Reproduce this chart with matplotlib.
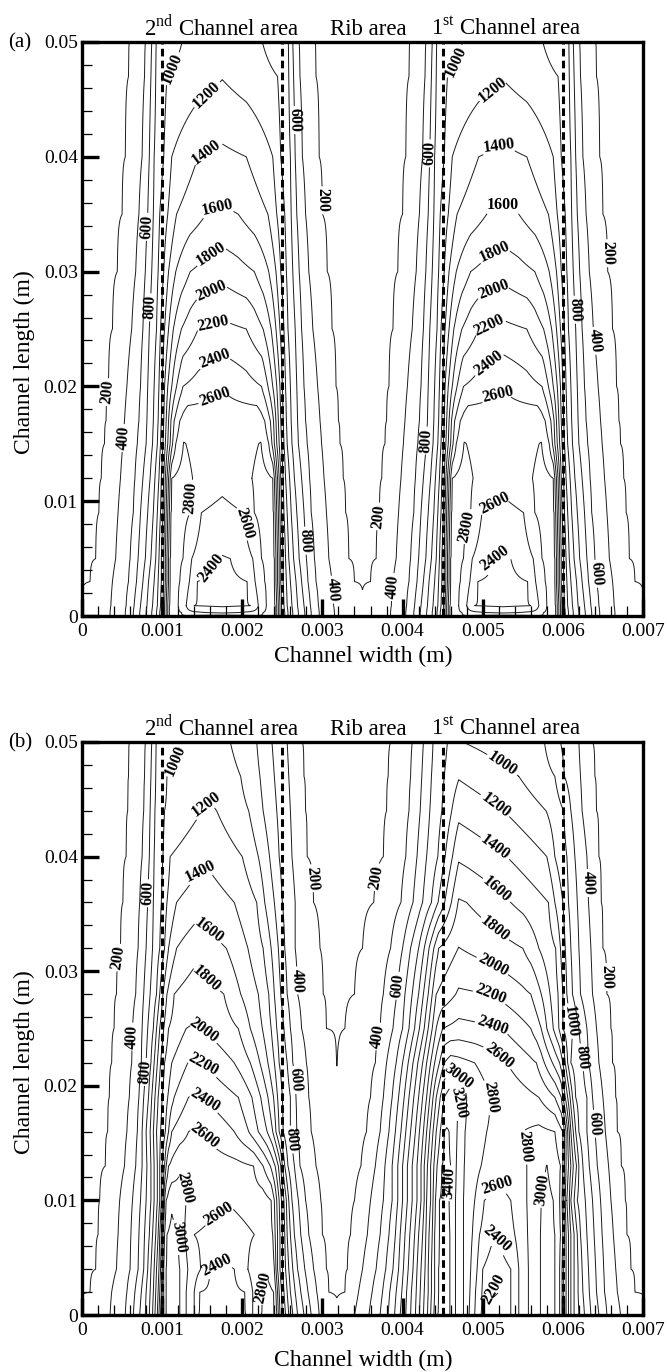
import numpy as np
import matplotlib
matplotlib.use("Agg")
import matplotlib.pyplot as plt
from matplotlib.ticker import MultipleLocator, FuncFormatter

plt.rcParams['font.family'] = ['Liberation Serif', 'DejaVu Serif']
plt.rcParams['mathtext.fontset'] = 'custom'
plt.rcParams['mathtext.rm'] = 'Liberation Serif'

levels = list(range(200, 3600, 200))
channel_edges = [0.001, 0.0025, 0.0045, 0.006]
area_names = ['2$^{\\mathrm{nd}}$ Channel area', 'Rib area', '1$^{\\mathrm{st}}$ Channel area']
area_centres = [0.00175, 0.00357, 0.00529]

# (a) both channels look the same: one profile per row, u = x - left channel edge
a_channel_starts = [0.001, 0.0045]
a_row_y = [0.05, 0.047, 0.04, 0.035, 0.03, 0.025, 0.02, 0.017, 0.015, 0.012,
           0.009, 0.005, 0.003, 0.0009, 0.0003, 0.0]
a_profiles = [
    [(-0.001, 110), (-0.00041, 200), (-0.00021, 400), (-0.00013, 600), (-0.000075, 800), (0.00004, 900),
     (0.00025, 1000), (0.00075, 1110), (0.00125, 1000), (0.00146, 900), (0.001575, 800), (0.00163, 600),
     (0.00171, 400), (0.00191, 200), (0.0025, 110)],
    [(-0.001, 115), (-0.00042, 200), (-0.00022, 400), (-0.00014, 600), (-0.00008, 800), (0.00006, 1000),
     (0.00075, 1190), (0.00144, 1000), (0.00158, 800), (0.00164, 600), (0.00172, 400), (0.00192, 200),
     (0.0025, 115)],
    [(-0.001, 125), (-0.00046, 200), (-0.00025, 400), (-0.00016, 600), (-0.0001, 800), (0.00002, 1000),
     (0.00012, 1200), (0.00045, 1400), (0.00075, 1440), (0.00105, 1400), (0.00138, 1200), (0.00148, 1000),
     (0.0016, 800), (0.00166, 600), (0.00175, 400), (0.00196, 200), (0.0025, 125)],
    [(-0.001, 135), (-0.0005, 200), (-0.00029, 400), (-0.00018, 600), (-0.00011, 800), (-0.00003, 1000),
     (0.00007, 1200), (0.00018, 1400), (0.00055, 1600), (0.00075, 1630), (0.00095, 1600), (0.00132, 1400),
     (0.00143, 1200), (0.00153, 1000), (0.00161, 800), (0.00168, 600), (0.00179, 400), (0.002, 200),
     (0.0025, 135)],
    [(-0.001, 145), (-0.00056, 200), (-0.00033, 400), (-0.00021, 600), (-0.00013, 800), (-0.00005, 1000),
     (0.00002, 1200), (0.00008, 1400), (0.00017, 1600), (0.00035, 1800), (0.00075, 1930), (0.00115, 1800),
     (0.00133, 1600), (0.00142, 1400), (0.00148, 1200), (0.00155, 1000), (0.00163, 800), (0.00171, 600),
     (0.00183, 400), (0.00206, 200), (0.0025, 145)],
    [(-0.001, 150), (-0.00062, 200), (-0.00038, 400), (-0.00024, 600), (-0.00016, 800), (-0.00007, 1000),
     (-0.00002, 1200), (0.00003, 1400), (0.00008, 1600), (0.00014, 1800), (0.00024, 2000), (0.00045, 2200),
     (0.00075, 2250), (0.00105, 2200), (0.00126, 2000), (0.00136, 1800), (0.00142, 1600), (0.00147, 1400),
     (0.00152, 1200), (0.00157, 1000), (0.00166, 800), (0.00174, 600), (0.00188, 400), (0.00212, 200),
     (0.0025, 150)],
    [(-0.001, 155), (-0.00067, 200), (-0.00044, 400), (-0.00027, 600), (-0.00018, 800), (-0.0001, 1000),
     (-0.00004, 1200), (0.0, 1400), (0.00003, 1600), (0.00007, 1800), (0.00012, 2000), (0.00018, 2200),
     (0.00026, 2400), (0.00075, 2590), (0.00124, 2400), (0.00132, 2200), (0.00138, 2000), (0.00143, 1800),
     (0.00147, 1600), (0.0015, 1400), (0.00154, 1200), (0.0016, 1000), (0.00168, 800), (0.00177, 600),
     (0.00194, 400), (0.00217, 200), (0.0025, 155)],
    [(-0.001, 160), (-0.0007, 200), (-0.00047, 400), (-0.00029, 600), (-0.00019, 800), (-0.00011, 1000),
     (-0.00005, 1200), (-0.00001, 1400), (0.00002, 1600), (0.00005, 1800), (0.00008, 2000), (0.00011, 2200),
     (0.00015, 2400), (0.00022, 2600), (0.00032, 2740), (0.00075, 2700), (0.00118, 2740), (0.00128, 2600),
     (0.00135, 2400), (0.00139, 2200), (0.00142, 2000), (0.00145, 1800), (0.00148, 1600), (0.00151, 1400),
     (0.00155, 1200), (0.00161, 1000), (0.00169, 800), (0.00179, 600), (0.00197, 400), (0.0022, 200),
     (0.0025, 160)],
    [(-0.001, 165), (-0.00072, 200), (-0.00049, 400), (-0.00031, 600), (-0.0002, 800), (-0.00012, 1000),
     (-0.00006, 1200), (-0.00002, 1400), (0.00001, 1600), (0.00004, 1800), (0.00007, 2000), (0.0001, 2200),
     (0.00013, 2400), (0.00017, 2600), (0.00027, 2810), (0.00045, 2740), (0.00075, 2720), (0.00105, 2740),
     (0.00123, 2810), (0.00133, 2600), (0.00137, 2400), (0.0014, 2200), (0.00143, 2000), (0.00146, 1800),
     (0.00149, 1600), (0.00152, 1400), (0.00156, 1200), (0.00162, 1000), (0.0017, 800), (0.00181, 600),
     (0.00199, 400), (0.00222, 200), (0.0025, 165)],
    [(-0.001, 168), (-0.00076, 200), (-0.00052, 400), (-0.00034, 600), (-0.00024, 800), (-0.00015, 1000),
     (-0.00009, 1200), (-0.00004, 1400), (-0.00001, 1600), (0.00002, 1800), (0.00004, 2000), (0.00006, 2200),
     (0.00008, 2400), (0.0001, 2600), (0.00012, 2800), (0.00025, 2870), (0.00038, 2800), (0.00075, 2680),
     (0.00112, 2800), (0.00125, 2870), (0.00138, 2800), (0.0014, 2600), (0.00142, 2400), (0.00144, 2200),
     (0.00146, 2000), (0.00148, 1800), (0.00151, 1600), (0.00154, 1400), (0.00159, 1200), (0.00165, 1000),
     (0.00174, 800), (0.00184, 600), (0.00202, 400), (0.00226, 200), (0.0025, 168)],
    [(-0.001, 172), (-0.00079, 200), (-0.00055, 400), (-0.00036, 600), (-0.00027, 800), (-0.00018, 1000),
     (-0.00011, 1200), (-0.00006, 1400), (-0.00002, 1600), (0.00001, 1800), (0.00003, 2000), (0.00005, 2200),
     (0.00007, 2400), (0.00009, 2600), (0.00011, 2800), (0.00023, 2860), (0.00035, 2800), (0.00049, 2600),
     (0.00075, 2530), (0.00101, 2600), (0.00115, 2800), (0.00127, 2860), (0.00139, 2800), (0.00141, 2600),
     (0.00143, 2400), (0.00145, 2200), (0.00147, 2000), (0.00149, 1800), (0.00152, 1600), (0.00156, 1400),
     (0.00161, 1200), (0.00168, 1000), (0.00177, 800), (0.00186, 600), (0.00205, 400), (0.00229, 200),
     (0.0025, 172)],
    [(-0.001, 185), (-0.00083, 200), (-0.00058, 400), (-0.0004, 600), (-0.0003, 800), (-0.00021, 1000),
     (-0.00014, 1200), (-0.00008, 1400), (-0.00004, 1600), (-0.00001, 1800), (0.00002, 2000), (0.00004, 2200),
     (0.00006, 2400), (0.00008, 2600), (0.0001, 2800), (0.00018, 2840), (0.00026, 2800), (0.00037, 2600),
     (0.00065, 2400), (0.00075, 2390), (0.00085, 2400), (0.00113, 2600), (0.00124, 2800), (0.00132, 2840),
     (0.0014, 2800), (0.00142, 2600), (0.00144, 2400), (0.00146, 2200), (0.00148, 2000), (0.00151, 1800),
     (0.00154, 1600), (0.00158, 1400), (0.00164, 1200), (0.00171, 1000), (0.0018, 800), (0.0019, 600),
     (0.00208, 400), (0.00233, 200), (0.0025, 185)],
    [(-0.001, 195), (-0.0009, 200), (-0.00062, 400), (-0.00042, 600), (-0.00032, 800), (-0.00024, 1000),
     (-0.00017, 1200), (-0.0001, 1400), (-0.00005, 1600), (-0.00001, 1800), (0.00002, 2000), (0.00004, 2200),
     (0.00006, 2400), (0.00008, 2600), (0.0001, 2800), (0.00016, 2830), (0.00022, 2800), (0.00034, 2600),
     (0.00044, 2400), (0.00075, 2340), (0.00106, 2400), (0.00116, 2600), (0.00128, 2800), (0.00134, 2830),
     (0.0014, 2800), (0.00142, 2600), (0.00144, 2400), (0.00146, 2200), (0.00148, 2000), (0.00151, 1800),
     (0.00155, 1600), (0.0016, 1400), (0.00167, 1200), (0.00174, 1000), (0.00182, 800), (0.00192, 600),
     (0.00212, 400), (0.0024, 200), (0.0025, 195)],
    [(-0.001, 210), (-0.00064, 400), (-0.00045, 600), (-0.00035, 800), (-0.00027, 1000), (-0.00019, 1200),
     (-0.00012, 1400), (-0.00006, 1600), (-0.00002, 1800), (0.00001, 2000), (0.00003, 2200), (0.00005, 2400),
     (0.00007, 2600), (0.00009, 2800), (0.00015, 2820), (0.0002, 2800), (0.0003, 2600), (0.0004, 2400),
     (0.00075, 2370), (0.0011, 2400), (0.0012, 2600), (0.0013, 2800), (0.00135, 2820), (0.00141, 2800),
     (0.00143, 2600), (0.00145, 2400), (0.00147, 2200), (0.00149, 2000), (0.00152, 1800), (0.00156, 1600),
     (0.00162, 1400), (0.00169, 1200), (0.00177, 1000), (0.00185, 800), (0.00195, 600), (0.00214, 400),
     (0.0025, 210)],
    [(-0.001, 225), (-0.00065, 400), (-0.00046, 600), (-0.00036, 800), (-0.00028, 1000), (-0.0002, 1200),
     (-0.00013, 1400), (-0.00007, 1600), (-0.00003, 1800), (0.00001, 2000), (0.00003, 2200), (0.00005, 2400),
     (0.00007, 2600), (0.00009, 2800), (0.00016, 2830), (0.00024, 2800), (0.0003, 2650), (0.00075, 2560),
     (0.0012, 2650), (0.00126, 2800), (0.00134, 2830), (0.00141, 2800), (0.00143, 2600), (0.00145, 2400),
     (0.00147, 2200), (0.00149, 2000), (0.00153, 1800), (0.00157, 1600), (0.00163, 1400), (0.0017, 1200),
     (0.00178, 1000), (0.00186, 800), (0.00196, 600), (0.00215, 400), (0.0025, 225)],
    [(-0.001, 240), (-0.00065, 400), (-0.00046, 600), (-0.00036, 800), (-0.00028, 1000), (-0.0002, 1200),
     (-0.00013, 1400), (-0.00007, 1600), (-0.00003, 1800), (0.00001, 2000), (0.00003, 2200), (0.00005, 2400),
     (0.00007, 2600), (0.00009, 2800), (0.00075, 2880), (0.00141, 2800), (0.00143, 2600), (0.00145, 2400),
     (0.00147, 2200), (0.00149, 2000), (0.00153, 1800), (0.00157, 1600), (0.00163, 1400), (0.0017, 1200),
     (0.00178, 1000), (0.00186, 800), (0.00196, 600), (0.00215, 400), (0.0025, 240)],
]

# (b) rows across the full width, x in m
b_row_y = [0.05, 0.047, 0.044, 0.04, 0.036, 0.032, 0.028, 0.025, 0.022, 0.019,
           0.016, 0.013, 0.01, 0.007, 0.004, 0.002, 0.0]
b_profiles = [
    [(0, 110), (0.00059, 200), (0.00079, 400), (0.00087, 600), (0.000925, 800), (0.00104, 900), (0.00124, 1000),
     (0.00155, 1090), (0.00185, 1000), (0.00218, 800), (0.00237, 600), (0.00256, 400), (0.00275, 200),
     (0.0033, 120), (0.00385, 200), (0.00412, 400), (0.00426, 600), (0.00438, 800), (0.00456, 1000),
     (0.0046, 1010), (0.00475, 1000), (0.0053, 900), (0.00577, 800), (0.00597, 600), (0.0062, 400),
     (0.00637, 200), (0.007, 110)],
    [(0, 115), (0.00058, 200), (0.00078, 400), (0.00086, 600), (0.00092, 800), (0.00106, 1000), (0.0016, 1170),
     (0.00198, 1000), (0.00222, 800), (0.0024, 600), (0.00258, 400), (0.00277, 200), (0.0033, 125),
     (0.00382, 200), (0.0041, 400), (0.00424, 600), (0.00436, 800), (0.00452, 1000), (0.0047, 1185),
     (0.00545, 1000), (0.0059, 800), (0.00602, 600), (0.00622, 400), (0.0064, 200), (0.007, 115)],
    [(0, 118), (0.00057, 200), (0.00077, 400), (0.00085, 600), (0.00091, 800), (0.00103, 1000), (0.0015, 1200),
     (0.00158, 1220), (0.00168, 1200), (0.00208, 1000), (0.00226, 800), (0.00243, 600), (0.0026, 400),
     (0.00279, 200), (0.0033, 128), (0.0038, 200), (0.00408, 400), (0.00422, 600), (0.00434, 800),
     (0.00449, 1000), (0.0047, 1340), (0.00526, 1200), (0.00579, 1000), (0.00601, 800), (0.0061, 600),
     (0.00624, 400), (0.00642, 200), (0.007, 118)],
    [(0, 125), (0.00055, 200), (0.00075, 400), (0.00084, 600), (0.0009, 800), (0.00101, 1000), (0.0011, 1200),
     (0.00155, 1370), (0.002, 1200), (0.0022, 1000), (0.00234, 800), (0.00246, 600), (0.00262, 400),
     (0.00281, 200), (0.0033, 135), (0.00376, 200), (0.00404, 400), (0.00418, 600), (0.0043, 800),
     (0.00444, 1000), (0.0047, 1570), (0.0053, 1400), (0.0058, 1200), (0.0059, 1000), (0.00605, 800),
     (0.00615, 600), (0.0063, 400), (0.00645, 200), (0.007, 125)],
    [(0, 133), (0.00051, 200), (0.00072, 400), (0.00082, 600), (0.00089, 800), (0.00099, 1000), (0.00106, 1200),
     (0.00118, 1400), (0.0015, 1530), (0.0019, 1400), (0.00218, 1200), (0.00228, 1000), (0.0024, 800),
     (0.0025, 600), (0.00266, 400), (0.00289, 200), (0.0032, 150), (0.00364, 200), (0.00398, 400),
     (0.00413, 600), (0.00425, 800), (0.00436, 1000), (0.0047, 1820), (0.0048, 1800), (0.00535, 1600),
     (0.00582, 1400), (0.0059, 1200), (0.006, 1000), (0.00607, 800), (0.00618, 600), (0.00632, 400),
     (0.00648, 200), (0.007, 133)],
    [(0, 140), (0.00048, 200), (0.0007, 400), (0.0008, 600), (0.00088, 800), (0.00097, 1000), (0.00103, 1200),
     (0.00108, 1400), (0.00118, 1600), (0.0014, 1720), (0.0018, 1600), (0.00207, 1400), (0.00226, 1200),
     (0.00236, 1000), (0.00245, 800), (0.00253, 600), (0.00266, 400), (0.00297, 200), (0.0032, 170),
     (0.0035, 200), (0.00385, 400), (0.004, 600), (0.0041, 800), (0.0042, 1000), (0.00427, 1200),
     (0.00433, 1400), (0.00439, 1600), (0.00445, 1800), (0.0047, 2005), (0.0055, 1800), (0.0057, 1600),
     (0.00591, 1400), (0.00597, 1200), (0.00603, 1000), (0.0061, 800), (0.0062, 600), (0.00635, 400),
     (0.0065, 200), (0.007, 140)],
    [(0, 147), (0.00043, 200), (0.00067, 400), (0.00077, 600), (0.00085, 800), (0.00093, 1000), (0.00097, 1200),
     (0.00101, 1400), (0.00106, 1600), (0.00115, 1800), (0.0014, 1910), (0.00177, 1800), (0.00198, 1600),
     (0.0022, 1400), (0.00233, 1200), (0.0024, 1000), (0.00248, 800), (0.00256, 600), (0.00269, 400),
     (0.00301, 200), (0.0032, 185), (0.0034, 200), (0.00376, 400), (0.00393, 600), (0.00403, 800),
     (0.00412, 1000), (0.0042, 1200), (0.00426, 1400), (0.00432, 1600), (0.00437, 1800), (0.00442, 2000),
     (0.0047, 2230), (0.0051, 2200), (0.0056, 2000), (0.00573, 1800), (0.00584, 1600), (0.00594, 1400),
     (0.006, 1200), (0.00605, 1000), (0.00612, 800), (0.00622, 600), (0.00637, 400), (0.00655, 200),
     (0.007, 147)],
    [(0, 150), (0.0004, 200), (0.00063, 400), (0.00075, 600), (0.00082, 800), (0.00089, 1000), (0.00093, 1200),
     (0.00097, 1400), (0.00102, 1600), (0.00108, 1800), (0.0013, 2000), (0.0014, 2020), (0.0015, 2000),
     (0.00195, 1800), (0.0021, 1600), (0.00225, 1400), (0.00236, 1200), (0.00243, 1000), (0.00252, 800),
     (0.0026, 600), (0.00274, 400), (0.00305, 200), (0.0032, 195), (0.00328, 200), (0.00372, 400),
     (0.00388, 600), (0.004, 800), (0.00408, 1000), (0.00415, 1200), (0.00421, 1400), (0.00427, 1600),
     (0.00432, 1800), (0.00437, 2000), (0.00442, 2200), (0.0045, 2400), (0.0047, 2470), (0.00524, 2400),
     (0.0056, 2200), (0.00573, 2000), (0.0058, 1800), (0.00588, 1600), (0.00595, 1400), (0.006, 1200),
     (0.00612, 1000), (0.0062, 800), (0.0063, 600), (0.00642, 400), (0.0066, 200), (0.007, 150)],
    [(0, 152), (0.00037, 200), (0.00062, 400), (0.00074, 600), (0.0008, 800), (0.00086, 1000), (0.0009, 1200),
     (0.00094, 1400), (0.00098, 1600), (0.00103, 1800), (0.00112, 2000), (0.00132, 2200), (0.0014, 2220),
     (0.0015, 2200), (0.0019, 2000), (0.0021, 1800), (0.00222, 1600), (0.00232, 1400), (0.0024, 1200),
     (0.00246, 1000), (0.00256, 800), (0.00263, 600), (0.0028, 400), (0.00318, 198), (0.00366, 400),
     (0.0038, 600), (0.00392, 800), (0.004, 1000), (0.00407, 1200), (0.00413, 1400), (0.00419, 1600),
     (0.00425, 1800), (0.0043, 2000), (0.00435, 2200), (0.0044, 2400), (0.00446, 2600), (0.00452, 2800),
     (0.0046, 2900), (0.0049, 2800), (0.0053, 2600), (0.00567, 2400), (0.00577, 2200), (0.00587, 2000),
     (0.00596, 1800), (0.006, 1600), (0.00603, 1400), (0.00606, 1200), (0.0061, 1000), (0.00625, 800),
     (0.00632, 600), (0.00645, 400), (0.00662, 200), (0.007, 152)],
    [(0, 160), (0.00034, 200), (0.00059, 400), (0.00071, 600), (0.00077, 800), (0.00083, 1000), (0.00087, 1200),
     (0.00091, 1400), (0.00095, 1600), (0.001, 1800), (0.00107, 2000), (0.00115, 2200), (0.00133, 2400),
     (0.0014, 2420), (0.0015, 2400), (0.00195, 2200), (0.00212, 2000), (0.00223, 1800), (0.00232, 1600),
     (0.00239, 1400), (0.00244, 1200), (0.0025, 1000), (0.0026, 800), (0.00267, 600), (0.00283, 400),
     (0.00318, 220), (0.0036, 400), (0.00376, 600), (0.00387, 800), (0.00395, 1000), (0.00402, 1200),
     (0.00408, 1400), (0.00414, 1600), (0.0042, 1800), (0.00425, 2000), (0.0043, 2200), (0.00434, 2400),
     (0.00438, 2600), (0.00442, 2800), (0.00447, 3000), (0.00452, 3200), (0.00458, 3300), (0.0047, 3200),
     (0.0048, 3000), (0.0051, 2800), (0.0054, 2700), (0.0057, 2600), (0.0059, 2400), (0.00598, 2200),
     (0.006, 2000), (0.00603, 1800), (0.00606, 1600), (0.00609, 1400), (0.00612, 1200), (0.00616, 1000),
     (0.0063, 800), (0.00637, 600), (0.0065, 400), (0.00666, 200), (0.007, 160)],
    [(0, 165), (0.00032, 200), (0.00056, 400), (0.00069, 600), (0.00075, 800), (0.0008, 1000), (0.00085, 1200),
     (0.00089, 1400), (0.00093, 1600), (0.00098, 1800), (0.00104, 2000), (0.00108, 2200), (0.00112, 2400),
     (0.00133, 2600), (0.0014, 2620), (0.0015, 2600), (0.0019, 2400), (0.00208, 2200), (0.0022, 2000),
     (0.00231, 1800), (0.00238, 1600), (0.00242, 1400), (0.00246, 1200), (0.00251, 1000), (0.0026, 800),
     (0.00268, 600), (0.00286, 400), (0.00318, 235), (0.00355, 400), (0.00372, 600), (0.00383, 800),
     (0.00391, 1000), (0.00398, 1200), (0.00404, 1400), (0.0041, 1600), (0.00416, 1800), (0.00421, 2000),
     (0.00426, 2200), (0.0043, 2400), (0.00434, 2600), (0.00438, 2800), (0.00442, 3000), (0.00447, 3200),
     (0.00452, 3400), (0.00455, 3420), (0.00458, 3400), (0.00468, 3200), (0.00478, 3000), (0.00505, 2800),
     (0.0053, 2720), (0.0055, 2800), (0.0057, 2850), (0.0059, 2800), (0.006, 2600), (0.00602, 2400),
     (0.00604, 2200), (0.00606, 2000), (0.00608, 1800), (0.0061, 1600), (0.00613, 1400), (0.00616, 1200),
     (0.0062, 1000), (0.0063, 800), (0.0064, 600), (0.00653, 400), (0.00668, 200), (0.007, 165)],
    [(0, 167), (0.00029, 200), (0.00053, 400), (0.00067, 600), (0.00075, 800), (0.00081, 1000), (0.00086, 1200),
     (0.0009, 1400), (0.00094, 1600), (0.00097, 1800), (0.001, 2000), (0.00103, 2200), (0.00105, 2400),
     (0.00108, 2600), (0.00122, 2780), (0.0016, 2700), (0.00195, 2650), (0.00214, 2600), (0.00226, 2400),
     (0.00235, 2200), (0.00241, 2000), (0.00245, 1800), (0.00248, 1600), (0.0025, 1400), (0.00253, 1200),
     (0.00257, 1000), (0.00265, 800), (0.00272, 600), (0.00292, 400), (0.00318, 260), (0.00348, 400),
     (0.00366, 600), (0.00378, 800), (0.00387, 1000), (0.00394, 1200), (0.004, 1400), (0.00406, 1600),
     (0.00412, 1800), (0.00418, 2000), (0.00423, 2200), (0.00427, 2400), (0.00431, 2600), (0.00435, 2800),
     (0.00439, 3000), (0.00443, 3200), (0.00449, 3400), (0.00455, 3440), (0.0046, 3400), (0.00467, 3200),
     (0.00477, 3000), (0.00498, 2800), (0.0052, 2650), (0.00555, 2800), (0.0058, 3005), (0.00597, 2800),
     (0.006, 2600), (0.00602, 2400), (0.00604, 2200), (0.00607, 2000), (0.0061, 1800), (0.00613, 1600),
     (0.00617, 1400), (0.0062, 1200), (0.00625, 1000), (0.00633, 800), (0.00643, 600), (0.00657, 400),
     (0.00673, 200), (0.007, 167)],
    [(0, 172), (0.00022, 200), (0.00047, 400), (0.00063, 600), (0.00073, 800), (0.0008, 1000), (0.00086, 1200),
     (0.0009, 1400), (0.00094, 1600), (0.00097, 1800), (0.00099, 2000), (0.00101, 2200), (0.00102, 2400),
     (0.00103, 2600), (0.00105, 2800), (0.00112, 2960), (0.0013, 2800), (0.0016, 2680), (0.00185, 2620),
     (0.0021, 2680), (0.00225, 2700), (0.00236, 2600), (0.0024, 2400), (0.00243, 2200), (0.00246, 2000),
     (0.00249, 1800), (0.00252, 1600), (0.00255, 1400), (0.00258, 1200), (0.00262, 1000), (0.0027, 800),
     (0.00279, 600), (0.00298, 400), (0.00318, 330), (0.0034, 400), (0.0036, 600), (0.00376, 800),
     (0.00387, 1000), (0.00394, 1200), (0.004, 1400), (0.00406, 1600), (0.00412, 1800), (0.00418, 2000),
     (0.00423, 2200), (0.00427, 2400), (0.0043, 2600), (0.00435, 2800), (0.00438, 3000), (0.00441, 3200),
     (0.00446, 3400), (0.00455, 3450), (0.00458, 3400), (0.00466, 3200), (0.00476, 3000), (0.0049, 2800),
     (0.00502, 2600), (0.0052, 2540), (0.00535, 2600), (0.00555, 2800), (0.00573, 3000), (0.0058, 3060),
     (0.00588, 3000), (0.00596, 2800), (0.00599, 2600), (0.00601, 2400), (0.00603, 2200), (0.00605, 2000),
     (0.00608, 1800), (0.0061, 1600), (0.00614, 1400), (0.00618, 1200), (0.00628, 1000), (0.00637, 800),
     (0.00647, 600), (0.0066, 400), (0.00678, 200), (0.007, 172)],
    [(0, 178), (0.0002, 200), (0.00045, 400), (0.00061, 600), (0.00071, 800), (0.00078, 1000), (0.00084, 1200),
     (0.00088, 1400), (0.00092, 1600), (0.00095, 1800), (0.00097, 2000), (0.00099, 2200), (0.001, 2400),
     (0.00101, 2600), (0.00103, 2800), (0.00106, 3000), (0.00112, 3060), (0.0012, 3000), (0.00128, 2800),
     (0.0014, 2600), (0.0018, 2490), (0.00215, 2600), (0.0023, 2720), (0.00238, 2600), (0.00241, 2400),
     (0.00244, 2200), (0.00247, 2000), (0.0025, 1800), (0.00253, 1600), (0.00256, 1400), (0.0026, 1200),
     (0.00265, 1000), (0.00273, 800), (0.00283, 600), (0.003, 400), (0.00318, 360), (0.00335, 400),
     (0.00356, 600), (0.00372, 800), (0.00383, 1000), (0.00391, 1200), (0.00397, 1400), (0.00403, 1600),
     (0.00409, 1800), (0.00415, 2000), (0.0042, 2200), (0.00425, 2400), (0.00429, 2600), (0.00433, 2800),
     (0.00437, 3000), (0.0044, 3200), (0.00446, 3400), (0.00455, 3460), (0.00459, 3400), (0.00466, 3200),
     (0.00476, 3000), (0.00487, 2800), (0.00496, 2600), (0.00515, 2395), (0.0054, 2600), (0.00556, 2800),
     (0.00572, 3000), (0.0058, 3080), (0.0059, 3000), (0.00597, 2800), (0.006, 2600), (0.00602, 2400),
     (0.00604, 2200), (0.00607, 2000), (0.0061, 1800), (0.00614, 1600), (0.00618, 1400), (0.00622, 1200),
     (0.0063, 1000), (0.00639, 800), (0.00649, 600), (0.00663, 400), (0.0068, 200), (0.007, 178)],
    [(0, 185), (0.00017, 200), (0.00043, 400), (0.0006, 600), (0.0007, 800), (0.00077, 1000), (0.00082, 1200),
     (0.00086, 1400), (0.0009, 1600), (0.00093, 1800), (0.00096, 2000), (0.00098, 2200), (0.001, 2400),
     (0.00101, 2600), (0.00102, 2800), (0.00105, 3000), (0.00112, 3080), (0.00122, 3000), (0.00132, 2800),
     (0.00148, 2600), (0.0016, 2400), (0.00175, 2370), (0.0019, 2400), (0.00207, 2600), (0.0022, 2760),
     (0.0023, 2790), (0.00238, 2700), (0.0024, 2600), (0.00242, 2400), (0.00244, 2200), (0.00247, 2000),
     (0.0025, 1800), (0.00254, 1600), (0.00258, 1400), (0.00263, 1200), (0.00269, 1000), (0.00278, 800),
     (0.00289, 600), (0.00305, 400), (0.00318, 375), (0.00331, 400), (0.0035, 600), (0.00367, 800),
     (0.00379, 1000), (0.00388, 1200), (0.00395, 1400), (0.00401, 1600), (0.00407, 1800), (0.00413, 2000),
     (0.00418, 2200), (0.00423, 2400), (0.00428, 2600), (0.00432, 2800), (0.00436, 3000), (0.0044, 3200),
     (0.00445, 3400), (0.00455, 3470), (0.00459, 3400), (0.00466, 3200), (0.00476, 3000), (0.00485, 2800),
     (0.00493, 2600), (0.005, 2400), (0.00515, 2280), (0.00535, 2400), (0.00545, 2600), (0.00557, 2800),
     (0.00572, 3000), (0.0058, 3080), (0.0059, 3000), (0.00596, 2800), (0.00599, 2600), (0.00601, 2400),
     (0.00604, 2200), (0.00607, 2000), (0.0061, 1800), (0.00614, 1600), (0.00619, 1400), (0.00624, 1200),
     (0.00632, 1000), (0.00641, 800), (0.00651, 600), (0.00666, 400), (0.00685, 200), (0.007, 185)],
    [(0, 195), (0.0001, 200), (0.00037, 400), (0.00056, 600), (0.00066, 800), (0.00074, 1000), (0.0008, 1200),
     (0.00085, 1400), (0.00089, 1600), (0.00092, 1800), (0.00095, 2000), (0.00097, 2200), (0.00099, 2400),
     (0.001, 2600), (0.00102, 2800), (0.00105, 3000), (0.00112, 3090), (0.00122, 3000), (0.0013, 2800),
     (0.0014, 2600), (0.00147, 2400), (0.00175, 2340), (0.00203, 2400), (0.00213, 2600), (0.00225, 2800),
     (0.00232, 2840), (0.00239, 2800), (0.00242, 2600), (0.00244, 2400), (0.00246, 2200), (0.00249, 2000),
     (0.00252, 1800), (0.00256, 1600), (0.0026, 1400), (0.00266, 1200), (0.00273, 1000), (0.00282, 800),
     (0.00293, 600), (0.00308, 400), (0.00318, 390), (0.00328, 400), (0.00345, 600), (0.00362, 800),
     (0.00375, 1000), (0.00384, 1200), (0.00392, 1400), (0.00399, 1600), (0.00405, 1800), (0.00411, 2000),
     (0.00417, 2200), (0.00422, 2400), (0.00427, 2600), (0.00432, 2800), (0.00436, 3000), (0.0044, 3200),
     (0.00445, 3400), (0.00455, 3480), (0.00459, 3400), (0.00466, 3200), (0.00476, 3000), (0.00484, 2800),
     (0.00491, 2600), (0.00499, 2400), (0.0051, 2200), (0.00515, 2180), (0.0052, 2200), (0.00535, 2400),
     (0.00545, 2600), (0.00557, 2800), (0.00572, 3000), (0.0058, 3080), (0.0059, 3000), (0.00596, 2800),
     (0.00599, 2600), (0.00601, 2400), (0.00604, 2200), (0.00607, 2000), (0.0061, 1800), (0.00614, 1600),
     (0.00619, 1400), (0.00625, 1200), (0.00633, 1000), (0.00642, 800), (0.00652, 600), (0.00668, 400),
     (0.0069, 200), (0.007, 195)],
    [(0, 240), (0.00035, 400), (0.00054, 600), (0.00064, 800), (0.00072, 1000), (0.00079, 1200), (0.00084, 1400),
     (0.00088, 1600), (0.00091, 1800), (0.00094, 2000), (0.00096, 2200), (0.00098, 2400), (0.001, 2600),
     (0.00102, 2800), (0.00105, 3000), (0.00112, 3090), (0.00122, 3000), (0.0013, 2800), (0.0014, 2600),
     (0.00145, 2400), (0.00175, 2350), (0.00205, 2400), (0.00213, 2600), (0.00224, 2800), (0.00232, 2830),
     (0.0024, 2800), (0.00243, 2600), (0.00245, 2400), (0.00247, 2200), (0.0025, 2000), (0.00254, 1800),
     (0.00258, 1600), (0.00263, 1400), (0.00269, 1200), (0.00277, 1000), (0.00286, 800), (0.00296, 600),
     (0.00318, 430), (0.0034, 600), (0.00358, 800), (0.00372, 1000), (0.00382, 1200), (0.0039, 1400),
     (0.00397, 1600), (0.00404, 1800), (0.0041, 2000), (0.00416, 2200), (0.00421, 2400), (0.00426, 2600),
     (0.00431, 2800), (0.00435, 3000), (0.00439, 3200), (0.00444, 3400), (0.00455, 3490), (0.00459, 3400),
     (0.00466, 3200), (0.00476, 3000), (0.00483, 2800), (0.0049, 2600), (0.00498, 2400), (0.00515, 2250),
     (0.00535, 2400), (0.00545, 2600), (0.00557, 2800), (0.00572, 3000), (0.0058, 3080), (0.0059, 3000),
     (0.00596, 2800), (0.00599, 2600), (0.00601, 2400), (0.00604, 2200), (0.00607, 2000), (0.0061, 1800),
     (0.00614, 1600), (0.0062, 1400), (0.00627, 1200), (0.00635, 1000), (0.00645, 800), (0.00655, 600),
     (0.00672, 400), (0.007, 240)],
]

# contour label spots, by level
a_labels = {
    200: [(0.000325, 0.0195), (0.003, 0.0362), (0.00375, 0.0086), (0.00656, 0.0316)],
    400: [(0.00052, 0.0155), (0.00314, 0.0023), (0.00391, 0.0025), (0.00644, 0.024)],
    600: [(0.00081, 0.0339), (0.00264, 0.0432), (0.00435, 0.0403), (0.00648, 0.0037)],
    800: [(0.00081, 0.0269), (0.00289, 0.0066), (0.00423, 0.0153), (0.00623, 0.0267)],
    1000: [(0.00114, 0.0476), (0.00469, 0.0482)],
    1200: [(0.00151, 0.0458), (0.00514, 0.0458)],
    1400: [(0.00156, 0.0403), (0.0052, 0.041)],
    1600: [(0.00169, 0.0356), (0.00525, 0.0362)],
    1800: [(0.0016, 0.0316), (0.00516, 0.0316)],
    2000: [(0.00164, 0.0281), (0.00516, 0.0281)],
    2200: [(0.00164, 0.0255), (0.00508, 0.0253)],
    2400: [(0.00164, 0.0226), (0.00158, 0.0043), (0.00504, 0.0223), (0.00514, 0.0052)],
    2600: [(0.00164, 0.0193), (0.00201, 0.0081), (0.00522, 0.0191), (0.00514, 0.0099)],
    2800: [(0.00137, 0.0103), (0.00481, 0.0078)],
}
b_labels = {
    200: [(0.00045, 0.0312), (0.00285, 0.0381), (0.00368, 0.0382), (0.0066, 0.0295)],
    400: [(0.00062, 0.0243), (0.00273, 0.0292), (0.0037, 0.0243), (0.00631, 0.0377)],
    600: [(0.00081, 0.0368), (0.00264, 0.0205), (0.00398, 0.0287), (0.00641, 0.0167)],
    800: [(0.00079, 0.0212), (0.0026, 0.0153), (0.00625, 0.0225)],
    1000: [(0.00116, 0.0484), (0.00526, 0.0482), (0.00613, 0.0257)],
    1200: [(0.00151, 0.0447), (0.00514, 0.0443)],
    1400: [(0.00151, 0.0386), (0.00514, 0.0406)],
    1600: [(0.00154, 0.0333), (0.00514, 0.0368)],
    1800: [(0.00154, 0.0292), (0.00514, 0.0336)],
    2000: [(0.00156, 0.0251), (0.00514, 0.0307)],
    2200: [(0.00154, 0.022), (0.0051, 0.0281), (0.00514, 0.0022)],
    2400: [(0.00154, 0.0188), (0.0017, 0.0042), (0.00514, 0.0257), (0.00519, 0.0067)],
    2600: [(0.00154, 0.0157), (0.0017, 0.0089), (0.00519, 0.0225), (0.00519, 0.0113)],
    2800: [(0.00133, 0.0112), (0.00229, 0.0024), (0.0051, 0.019), (0.00554, 0.0147)],
    3000: [(0.00116, 0.0068), (0.00475, 0.0211), (0.00576, 0.0109)],
    3200: [(0.0047, 0.0185)],
    3400: [(0.00458, 0.0115)],
}

xg = np.linspace(0, 0.007, 1401)


def profile(row, x):
    k = np.array(row, dtype=float)
    order = np.argsort(k[:, 0])
    return np.interp(x, k[order, 0], k[order, 1])


def field_a():
    u = np.where(xg <= 0.0035, xg - a_channel_starts[0], xg - a_channel_starts[1])
    return np.array([profile(r, u) for r in a_profiles])


def field_b():
    return np.array([profile(r, xg) for r in b_profiles])


def draw(ax, rows_y, Z, labels):
    # one contour set per level so that manual labels stay on their own level
    for lev in levels:
        cs = ax.contour(xg, rows_y, Z, levels=[lev], colors='#1c1c1c', linewidths=0.7)
        if lev in labels and len(cs.allsegs[0]) > 0:
            with plt.rc_context({'font.weight': 'bold'}):
                cs.clabel(manual=labels[lev], inline=True, inline_spacing=2,
                          fmt='%d', fontsize=11.5, colors='black')
    for e in channel_edges:
        ax.axvline(e, color='black', lw=2.2, ls=(0, (2.5, 1.4)), zorder=3)
    ax.set_xlim(0, 0.007)
    ax.set_ylim(0, 0.05)
    ax.xaxis.set_major_locator(MultipleLocator(0.001))
    ax.xaxis.set_minor_locator(MultipleLocator(0.0002))
    ax.yaxis.set_major_locator(MultipleLocator(0.01))
    ax.yaxis.set_minor_locator(MultipleLocator(0.002))
    fmt = FuncFormatter(lambda v, p: '%g' % round(v, 6))
    ax.xaxis.set_major_formatter(fmt)
    ax.yaxis.set_major_formatter(fmt)
    ax.tick_params(which='both', direction='in', top=False, right=False, labelsize=14)
    ax.tick_params(which='major', length=12, width=2.4)
    ax.tick_params(which='minor', length=7, width=0.9)
    ax.tick_params(axis='x', pad=5)
    ax.tick_params(axis='y', pad=3)
    for s in ax.spines.values():
        s.set_linewidth(2.4)
    for name, cx in zip(area_names, area_centres):
        ax.annotate(name, xy=(cx, 1), xycoords=('data', 'axes fraction'),
                    xytext=(0, 5), textcoords='offset points',
                    ha='center', va='baseline', fontsize=16.5)


fig = plt.figure(figsize=(6.67, 13.72), dpi=100)
W, H = 667.0, 1372.0
ax_a = fig.add_axes([82 / W, 1 - 616 / H, 561 / W, 574 / H])
ax_b = fig.add_axes([82 / W, 1 - 1315 / H, 561 / W, 573 / H])

draw(ax_a, a_row_y, field_a(), a_labels)
draw(ax_b, b_row_y, field_b(), b_labels)

fig.text(8 / W, 1 - 43 / H, '(a)', ha='left', va='center', fontsize=15)
fig.text(8 / W, 1 - 743 / H, '(b)', ha='left', va='center', fontsize=15)
fig.text(24 / W, 1 - 362 / H, 'Channel length (m)', rotation=90, ha='center', va='center', fontsize=17)
fig.text(24 / W, 1 - 1062 / H, 'Channel length (m)', rotation=90, ha='center', va='center', fontsize=17)
fig.text(363 / W, 1 - 656 / H, 'Channel width (m)', ha='center', va='center', fontsize=17)
fig.text(363 / W, 1 - 1360 / H, 'Channel width (m)', ha='center', va='center', fontsize=17)

fig.savefig('out.png', dpi=100)
